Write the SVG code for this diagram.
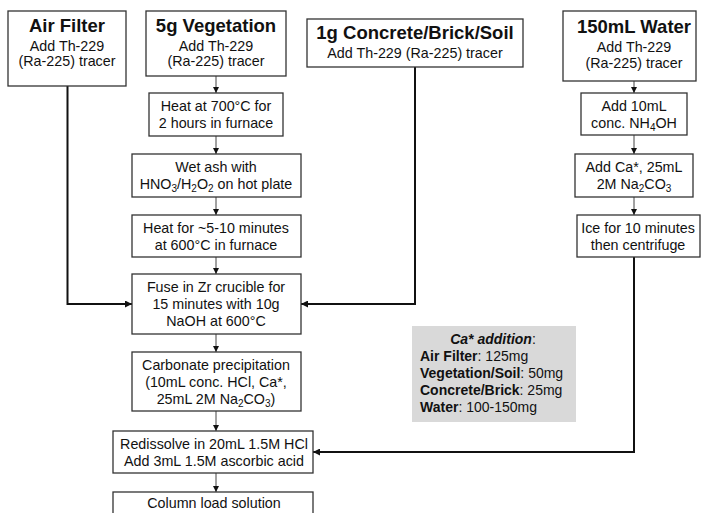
<svg xmlns="http://www.w3.org/2000/svg" width="701" height="513" viewBox="0 0 701 513">
<defs>
<style>
text{font-family:"Liberation Sans",Arial,sans-serif;fill:#111;}
.t{font-size:18.5px;font-weight:bold;text-anchor:middle;}
.b{font-size:14.3px;text-anchor:middle;}
.g{font-size:14px;}
.box{fill:#fff;stroke:#333;stroke-width:1.3;}
.thin{stroke:#444;stroke-width:1;fill:none;}
.thick{stroke:#111;stroke-width:2;fill:none;}
.sub{font-size:10px;}
</style>
<marker id="ah" viewBox="0 0 10 10" refX="10" refY="5" markerWidth="6" markerHeight="6" markerUnits="userSpaceOnUse" orient="auto"><path d="M0,0L10,5L0,10z" fill="#111"/></marker>
<marker id="ah2" viewBox="0 0 10 10" refX="10" refY="5" markerWidth="3.5" markerHeight="3.5" markerUnits="strokeWidth" orient="auto"><path d="M0,0L10,5L0,10z" fill="#111"/></marker>
</defs>
<rect width="701" height="513" fill="#fff"/>
<g id="connectors">
<path class="thin" d="M216,76V93" marker-end="url(#ah)"/>
<path class="thin" d="M216,136V154" marker-end="url(#ah)"/>
<path class="thin" d="M216,197V215" marker-end="url(#ah)"/>
<path class="thin" d="M216,257V274" marker-end="url(#ah)"/>
<path class="thin" d="M216,334V352" marker-end="url(#ah)"/>
<path class="thin" d="M216,411V431" marker-end="url(#ah)"/>
<path class="thin" d="M216,473V492" marker-end="url(#ah)"/>
<path class="thin" d="M634,81V93" marker-end="url(#ah)"/>
<path class="thin" d="M634,135V154" marker-end="url(#ah)"/>
<path class="thin" d="M634,197V215" marker-end="url(#ah)"/>
<path class="thick" d="M67.5,86V304H132" marker-end="url(#ah2)"/>
<path class="thick" d="M415,67V304H301" marker-end="url(#ah2)"/>
<path class="thick" d="M634,257V452H313" marker-end="url(#ah2)"/>
</g>
<g id="air-filter">
<rect class="box" x="8" y="11" width="118" height="75"/>
<text class="t" x="67" y="32">Air Filter</text>
<text class="b" x="67" y="51">Add Th-229</text>
<text class="b" x="67" y="66">(Ra-225) tracer</text>
</g>
<g id="vegetation">
<rect class="box" x="146" y="11" width="140" height="65"/>
<text class="t" x="216" y="32">5g Vegetation</text>
<text class="b" x="216" y="51">Add Th-229</text>
<text class="b" x="216" y="66">(Ra-225) tracer</text>
</g>
<g id="concrete">
<rect class="box" x="307" y="19" width="216" height="48"/>
<text class="t" x="415" y="39">1g Concrete/Brick/Soil</text>
<text class="b" x="415" y="58">Add Th-229 (Ra-225) tracer</text>
</g>
<g id="water">
<rect class="box" x="563" y="11" width="133" height="70"/>
<text class="t" x="634" y="33">150mL Water</text>
<text class="b" x="634" y="52">Add Th-229</text>
<text class="b" x="634" y="68">(Ra-225) tracer</text>
</g>
<g id="heat700">
<rect class="box" x="149" y="93" width="134" height="43"/>
<text class="b" x="216" y="111">Heat at 700°C for</text>
<text class="b" x="216" y="128">2 hours in furnace</text>
</g>
<g id="wet-ash">
<rect class="box" x="132" y="154" width="169" height="43"/>
<text class="b" x="216" y="172">Wet ash with</text>
<text class="b" x="216" y="189">HNO<tspan class="sub" dy="3">3</tspan><tspan dy="-3">/H</tspan><tspan class="sub" dy="3">2</tspan><tspan dy="-3">O</tspan><tspan class="sub" dy="3">2</tspan><tspan dy="-3"> on hot plate</tspan></text>
</g>
<g id="heat600">
<rect class="box" x="132" y="215" width="169" height="42"/>
<text class="b" x="216" y="233">Heat for ~5-10 minutes</text>
<text class="b" x="216" y="250">at 600°C in furnace</text>
</g>
<g id="fuse">
<rect class="box" x="132" y="274" width="169" height="60"/>
<text class="b" x="216" y="292">Fuse in Zr crucible for</text>
<text class="b" x="216" y="309">15 minutes with 10g</text>
<text class="b" x="216" y="326">NaOH at 600°C</text>
</g>
<g id="carbonate">
<rect class="box" x="132" y="352" width="169" height="59"/>
<text class="b" x="216" y="370">Carbonate precipitation</text>
<text class="b" x="216" y="387">(10mL conc. HCl, Ca*,</text>
<text class="b" x="216" y="404">25mL 2M Na<tspan class="sub" dy="3">2</tspan><tspan dy="-3">CO</tspan><tspan class="sub" dy="3">3</tspan><tspan dy="-3">)</tspan></text>
</g>
<g id="redissolve">
<rect class="box" x="113" y="431" width="200" height="42"/>
<text class="b" x="214" y="449">Redissolve in 20mL 1.5M HCl</text>
<text class="b" x="214" y="466">Add 3mL 1.5M ascorbic acid</text>
</g>
<g id="column">
<rect class="box" x="113" y="492" width="200" height="30"/>
<text class="b" x="214" y="508">Column load solution</text>
</g>
<g id="nh4oh">
<rect class="box" x="581" y="93" width="106" height="42"/>
<text class="b" x="634" y="111">Add 10mL</text>
<text class="b" x="634" y="128">conc. NH<tspan class="sub" dy="3">4</tspan><tspan dy="-3">OH</tspan></text>
</g>
<g id="add-ca">
<rect class="box" x="575" y="154" width="118" height="43"/>
<text class="b" x="634" y="172">Add Ca*, 25mL</text>
<text class="b" x="634" y="189">2M Na<tspan class="sub" dy="3">2</tspan><tspan dy="-3">CO</tspan><tspan class="sub" dy="3">3</tspan></text>
</g>
<g id="ice">
<rect class="box" x="577" y="215" width="123" height="42"/>
<text class="b" x="638" y="233">Ice for 10 minutes</text>
<text class="b" x="638" y="250">then centrifuge</text>
</g>
<g id="ca-note">
<rect x="412" y="326" width="164" height="96" fill="#d9d9d9"/>
<text class="g" x="493" y="344" text-anchor="middle"><tspan font-weight="bold" font-style="italic">Ca* addition</tspan>:</text>
<text class="g" x="420" y="361"><tspan font-weight="bold">Air Filter</tspan>: 125mg</text>
<text class="g" x="420" y="378"><tspan font-weight="bold">Vegetation/Soil</tspan>: 50mg</text>
<text class="g" x="420" y="395"><tspan font-weight="bold">Concrete/Brick</tspan>: 25mg</text>
<text class="g" x="420" y="412"><tspan font-weight="bold">Water</tspan>: 100-150mg</text>
</g>
</svg>
